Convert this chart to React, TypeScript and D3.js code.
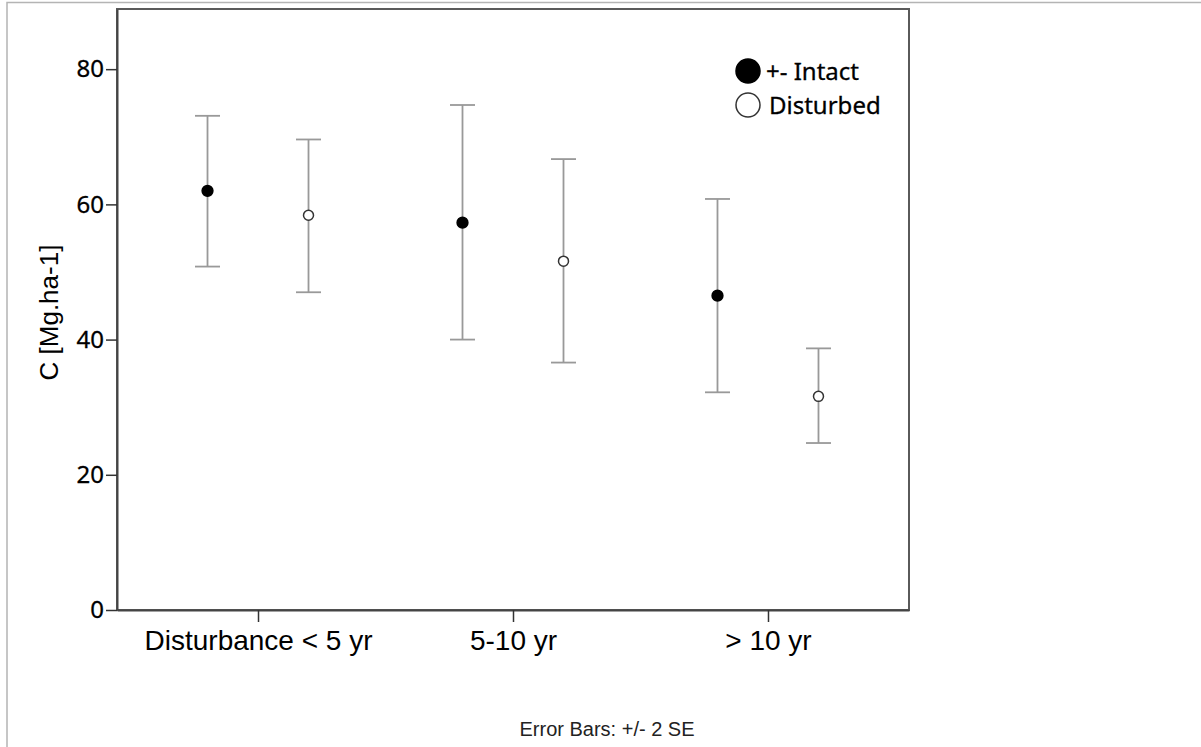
import React, { useRef, useEffect } from "react";
import * as d3 from "d3";

const categories = ["Disturbance < 5 yr", "5-10 yr", "> 10 yr"];
const groups = ["+- Intact", "Disturbed"];
const yTicks = [0, 20, 40, 60, 80];

// mean and +/- 2 SE bounds per category
const intactMean = [62.0, 57.3, 46.5];
const intactUpper = [73.1, 74.7, 60.8];
const intactLower = [50.8, 40.0, 32.2];
const disturbedMean = [58.4, 51.6, 31.6];
const disturbedUpper = [69.6, 66.7, 38.7];
const disturbedLower = [47.0, 36.6, 24.7];

export default function App() {
    const svgRef = useRef(null);

    var W = 1201, H = 747;
    var margin = { top: 9, right: 292, bottom: 137, left: 117 },
        width = W - margin.left - margin.right,
        height = H - margin.top - margin.bottom;

    function renderChart() {
        d3.select(svgRef.current).selectAll("g").remove();

        const root = d3.select(svgRef.current).append("g");

        // outer frame of the output window
        root.append("path")
            .attr("d", "M7," + H + "V2.5H" + W)
            .attr("fill", "none")
            .attr("stroke", "#b4b4b4")
            .attr("stroke-width", 1.5);

        const svg = root.append("g")
            .attr("transform", "translate(" + margin.left + "," + margin.top + ")");

        var x = d3.scalePoint().domain(categories).range([0, width]).padding(0.553);
        var xOff = d3.scalePoint().domain(groups).range([-50.5, 50.5]);
        var y = d3.scaleLinear().domain([0, 88.9]).range([height, 0]);

        // plot box
        svg.append("rect")
            .attr("x", 0).attr("y", 0)
            .attr("width", width).attr("height", height)
            .attr("fill", "none")
            .attr("stroke", "#5a5a5a")
            .attr("stroke-width", 2);

        // y axis
        const yAxis = svg.append("g")
            .call(d3.axisLeft(y).tickValues(yTicks).tickSize(11).tickSizeOuter(0).tickPadding(2));
        yAxis.select(".domain").attr("stroke", "#444").attr("stroke-width", 2);
        yAxis.selectAll(".tick line").attr("stroke", "#333").attr("stroke-width", 1.5);
        yAxis.selectAll(".tick text")
            .attr("font-family", "Noto Sans")
            .attr("font-size", 24)
            .attr("fill", "#000")
            .attr("stroke", "#000")
            .attr("stroke-width", 0.3);

        // x axis
        const xAxis = svg.append("g")
            .attr("transform", "translate(0," + height + ")")
            .call(d3.axisBottom(x).tickSize(12).tickSizeOuter(0).tickPadding(8));
        xAxis.select(".domain").attr("stroke", "#444").attr("stroke-width", 2);
        xAxis.selectAll(".tick line").attr("stroke", "#333").attr("stroke-width", 1.5);
        xAxis.selectAll(".tick text")
            .attr("font-family", "Liberation Sans")
            .attr("font-size", 28)
            .attr("fill", "#000");

        // y axis title
        svg.append("text")
            .attr("transform", "translate(-59," + y(44) + ") rotate(-90)")
            .attr("text-anchor", "middle")
            .attr("font-family", "Liberation Sans")
            .attr("font-size", 26)
            .text("C [Mg.ha-1]");

        const series = [
            { key: groups[0], mean: intactMean, upper: intactUpper, lower: intactLower },
            { key: groups[1], mean: disturbedMean, upper: disturbedUpper, lower: disturbedLower },
        ];

        series.forEach(function (s) {
            const g = svg.append("g");
            categories.forEach(function (c, i) {
                const cx = x(c) + xOff(s.key);
                g.append("line")
                    .attr("x1", cx).attr("x2", cx)
                    .attr("y1", y(s.upper[i])).attr("y2", y(s.lower[i]))
                    .attr("stroke", "#999").attr("stroke-width", 1.8);
                [s.upper[i], s.lower[i]].forEach(function (v) {
                    g.append("line")
                        .attr("x1", cx - 12.5).attr("x2", cx + 12.5)
                        .attr("y1", y(v)).attr("y2", y(v))
                        .attr("stroke", "#999").attr("stroke-width", 1.8);
                });
                g.append("circle")
                    .attr("cx", cx).attr("cy", y(s.mean[i]))
                    .attr("r", s.key === groups[0] ? 5.4 : 5)
                    .attr("fill", s.key === groups[0] ? "#000" : "#fff")
                    .attr("stroke", s.key === groups[0] ? "#000" : "#333")
                    .attr("stroke-width", 1.5);
            });
        });

        // legend
        const legend = svg.append("g").attr("transform", "translate(631,62)");
        groups.forEach(function (gname, i) {
            const row = legend.append("g").attr("transform", "translate(0," + i * 34 + ")");
            row.append("circle")
                .attr("cx", 0).attr("cy", 0).attr("r", 12)
                .attr("fill", i === 0 ? "#000" : "#fff")
                .attr("stroke", i === 0 ? "#000" : "#333")
                .attr("stroke-width", 1.5);
            row.append("text")
                .attr("x", i === 0 ? 18 : 21).attr("y", 9)
                .attr("font-family", "Noto Sans")
                .attr("font-size", 24)
                .attr("stroke", "#000")
                .attr("stroke-width", 0.3)
                .text(gname);
        });

        // footnote
        root.append("text")
            .attr("x", 607).attr("y", 736)
            .attr("text-anchor", "middle")
            .attr("font-family", "Liberation Sans")
            .attr("font-size", 20)
            .attr("fill", "#222")
            .text("Error Bars:  +/- 2 SE");
    }

    useEffect(() => {
        renderChart();
    }, []);

    return (
        <div>
            <svg ref={svgRef} width={W} height={H}
                style={{ position: "absolute", left: 0, top: 0, background: "#fff" }} />
        </div>
    );
};
